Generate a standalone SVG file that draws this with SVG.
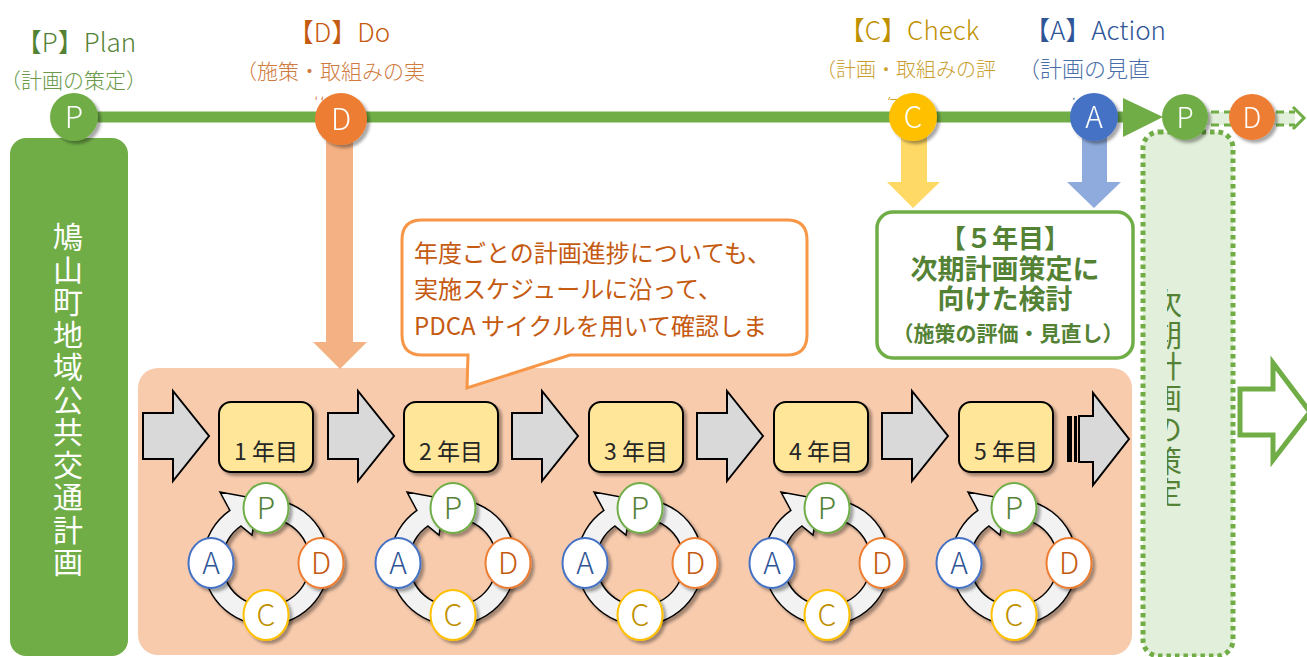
<svg xmlns="http://www.w3.org/2000/svg" xmlns:xlink="http://www.w3.org/1999/xlink" width="1307" height="657" viewBox="0 0 1307 657">
<style>
text{font-family:"Noto Sans CJK JP","Noto Sans",sans-serif;}
.lab{font-size:26px;font-weight:300;}
.sub{font-size:20px;font-weight:300;}
.big{fill:#fff;font-size:30px;text-anchor:middle;font-weight:300;}
.cl{font-size:30px;fill:#fff;text-anchor:middle;}
.sl{font-size:30px;text-anchor:middle;font-weight:300;}
.yr{font-size:23px;fill:#262626;text-anchor:middle;}
.gar{fill:#d9d9d9;stroke:#000;stroke-width:2;stroke-linejoin:miter;}
.ybox{fill:#ffe699;stroke:#000;stroke-width:2;}
.bub{font-size:24px;fill:#c55a11;}
.g5{fill:#548235;font-weight:bold;text-anchor:middle;}
</style>
<defs>
<filter id="sh" x="-30%" y="-30%" width="170%" height="170%">
<feDropShadow dx="3" dy="3" stdDeviation="1.5" flood-color="#000" flood-opacity="0.35"/>
</filter>
<path id="garr" class="gar" d="M0,-23 H30 V-45 L66,0 L30,45 V23 H0 Z"/>
<g id="pdca">
<path d="M13.1,-61.6 A63,63 0 1 1 -36.1,-51.6 L-46,-70 L-8,-63 L-14,-27 L-25.2,-36 A44,44 0 1 0 9.1,-43 Z" fill="#f2f2f2" stroke="#000" stroke-width="1.5" filter="url(#sh)"/>
<ellipse cx="0" cy="-54" rx="22.5" ry="25" fill="#fff" stroke="#70ad47" stroke-width="2" filter="url(#sh)"/>
<text class="sl" x="0" y="-43" fill="#548235">P</text>
<ellipse cx="55" cy="1" rx="22.5" ry="25" fill="#fff" stroke="#ed7d31" stroke-width="2" filter="url(#sh)"/>
<text class="sl" x="55" y="12" fill="#c55a11">D</text>
<ellipse cx="0" cy="53" rx="22.5" ry="25" fill="#fff" stroke="#ffc000" stroke-width="2" filter="url(#sh)"/>
<text class="sl" x="0" y="64" fill="#bf9000">C</text>
<ellipse cx="-55" cy="1" rx="22.5" ry="25" fill="#fff" stroke="#4472c4" stroke-width="2" filter="url(#sh)"/>
<text class="sl" x="-55" y="12" fill="#2f5597">A</text>
</g>
<clipPath id="clipv"><rect x="1167" y="260" width="40" height="280"/></clipPath>
<clipPath id="clipfrag"><rect x="0" y="88" width="1307" height="12"/></clipPath>
</defs>

<!-- labels -->
<g id="labels">
<text class="lab" x="76" y="52" text-anchor="middle" fill="#548235">【P】Plan</text>
<text x="0" y="88" fill="#6a9a4a" style="font-size:21px;font-weight:300">（計画の策定）</text>
<text class="lab" x="339" y="42" text-anchor="middle" fill="#c55a11">【D】Do</text>
<text class="sub" x="236" y="79" fill="#d07a40" style="font-size:21px">（施策・取組みの実</text>
<text class="lab" x="909" y="40" text-anchor="middle" fill="#bf9000">【C】Check</text>
<text class="sub" x="816" y="77" fill="#c9a030">（計画・取組みの評</text>
<text class="lab" x="1095" y="40" text-anchor="middle" fill="#2f5597">【A】Action</text>
<text class="sub" x="1018" y="77" fill="#4a6fa8" style="font-size:22px">（計画の見直</text>
<g clip-path="url(#clipfrag)">
<text class="sub" x="311" y="114" fill="#d07a40">施）</text>
<text class="sub" x="884" y="114" fill="#c9a030">価）</text>
<text class="sub" x="1068" y="114" fill="#4a6fa8">し）</text>
</g>
</g>

<!-- left bar -->
<g id="plan-bar">
<rect x="10" y="138" width="118" height="518" rx="16" fill="#70ad47"/>
<text class="cl" x="68" y="248">鳩</text>
<text class="cl" x="68" y="280.5">山</text>
<text class="cl" x="68" y="313">町</text>
<text class="cl" x="68" y="345.5">地</text>
<text class="cl" x="68" y="378">域</text>
<text class="cl" x="68" y="410.5">公</text>
<text class="cl" x="68" y="443">共</text>
<text class="cl" x="68" y="475.5">交</text>
<text class="cl" x="68" y="508">通</text>
<text class="cl" x="68" y="540.5">計</text>
<text class="cl" x="68" y="573">画</text>
</g>

<!-- next plan dotted area -->
<g id="next-plan">
<rect x="1143" y="132" width="90" height="524" rx="16" fill="#e2efda" stroke="#70ad47" stroke-width="5" stroke-dasharray="4.5 4"/>
<g clip-path="url(#clipv)" fill="#548235" style="font-size:30px" text-anchor="middle">
<text x="1167" y="314">次</text>
<text x="1167" y="345.5">期</text>
<text x="1167" y="377">計</text>
<text x="1167" y="408.5">画</text>
<text x="1167" y="440">の</text>
<text x="1167" y="471.5">策</text>
<text x="1167" y="503">定</text>
</g>
</g>

<!-- right block arrow -->
<g id="next-arrow">
<path d="M1240,389 H1273 V363 L1310,412 L1273,460 V435 H1240 Z" fill="#fff" stroke="#70ad47" stroke-width="5"/>
</g>

<!-- salmon background -->
<g id="years-area">
<rect x="138" y="368" width="994" height="287" rx="20" fill="#f8cbad"/>
</g>

<!-- connectors -->
<g id="connectors">
<line x1="73" y1="117" x2="1126" y2="117" stroke="#70ad47" stroke-width="11"/>
<polygon points="1123,98 1163,117 1123,137" fill="#70ad47"/>
<rect x="1185" y="112" width="110" height="13" fill="#e2efda"/>
<line x1="1185" y1="112" x2="1295" y2="112" stroke="#70ad47" stroke-width="3" stroke-dasharray="8 5"/>
<line x1="1185" y1="125" x2="1295" y2="125" stroke="#70ad47" stroke-width="3" stroke-dasharray="8 5"/>
<polyline points="1293,107 1304,118 1293,129" fill="none" stroke="#70ad47" stroke-width="3"/>
<polygon points="326,135 353,135 353,342 367,342 340,369 313,342 326,342" fill="#f4b183"/>
<polygon points="901,130 927,130 927,182 940,182 913,208 887,182 901,182" fill="#ffd966"/>
<polygon points="1082,130 1107,130 1107,182 1121,182 1094,208 1067,182 1082,182" fill="#8faadc"/>
<use xlink:href="#garr" href="#garr" x="143" y="436"/>
<use xlink:href="#garr" href="#garr" x="328" y="436"/>
<use xlink:href="#garr" href="#garr" x="512" y="436"/>
<use xlink:href="#garr" href="#garr" x="697" y="436"/>
<use xlink:href="#garr" href="#garr" x="882" y="436"/>
<rect x="1067" y="416" width="5" height="46" fill="#000"/>
<rect x="1074" y="416" width="3" height="46" fill="#000"/>
<path class="gar" d="M1079,416 H1093 V393 L1129,439 L1093,485 V462 H1079 Z"/>
</g>

<!-- top circles -->
<g id="node-P" filter="url(#sh)"><circle cx="74" cy="117" r="24" fill="#70ad47"/><text class="big" x="74" y="128">P</text></g>
<g id="node-D" filter="url(#sh)"><circle cx="341" cy="119" r="26" fill="#ed7d31"/><text class="big" x="341" y="130">D</text></g>
<g id="node-C" filter="url(#sh)"><circle cx="913" cy="117" r="24" fill="#ffc000"/><text class="big" x="913" y="128">C</text></g>
<g id="node-A" filter="url(#sh)"><circle cx="1094" cy="117" r="24" fill="#4472c4"/><text class="big" x="1094" y="128">A</text></g>
<g id="node-P2" filter="url(#sh)"><circle cx="1185" cy="117" r="23" fill="#70ad47"/><text class="big" x="1185" y="128" style="font-size:28px">P</text></g>
<g id="node-D2" filter="url(#sh)"><circle cx="1252" cy="117" r="23" fill="#ed7d31"/><text class="big" x="1252" y="128" style="font-size:28px">D</text></g>

<!-- 5th year review box -->
<g id="review">
<rect x="877" y="212" width="256" height="146" rx="16" fill="#fff" stroke="#70ad47" stroke-width="3.5"/>
<text class="g5" x="1005" y="248" style="font-size:26px">【５年目】</text>
<text class="g5" x="1005" y="279" style="font-size:27px">次期計画策定に</text>
<text class="g5" x="1005" y="309" style="font-size:27px">向けた検討</text>
<text class="g5" x="1008" y="341" style="font-size:21px">（施策の評価・見直し）</text>
</g>

<!-- speech bubble -->
<g id="bubble">
<path d="M422,220 H787 Q807,220 807,240 V335 Q807,355 787,355 H570 L467,388 L468,355 H422 Q402,355 402,335 V240 Q402,220 422,220 Z" fill="#fff" stroke="#f79646" stroke-width="3"/>
<text class="bub" x="414" y="262">年度ごとの計画進捗についても、</text>
<text class="bub" x="414" y="298">実施スケジュールに沿って、</text>
<text class="bub" x="414" y="335">PDCA サイクルを用いて確認しま</text>
</g>

<!-- year boxes -->
<g id="year1"><rect class="ybox" x="219" y="402" width="94" height="70" rx="12" filter="url(#sh)"/><text class="yr" x="266" y="460">1 年目</text></g>
<g id="year2"><rect class="ybox" x="404" y="402" width="94" height="70" rx="12" filter="url(#sh)"/><text class="yr" x="451" y="460">2 年目</text></g>
<g id="year3"><rect class="ybox" x="589" y="402" width="94" height="70" rx="12" filter="url(#sh)"/><text class="yr" x="636" y="460">3 年目</text></g>
<g id="year4"><rect class="ybox" x="774" y="402" width="94" height="70" rx="12" filter="url(#sh)"/><text class="yr" x="821" y="460">4 年目</text></g>
<g id="year5"><rect class="ybox" x="959" y="402" width="94" height="70" rx="12" filter="url(#sh)"/><text class="yr" x="1006" y="460">5 年目</text></g>

<!-- PDCA cycles -->
<g id="cycle1"><use xlink:href="#pdca" href="#pdca" x="266" y="562"/></g>
<g id="cycle2"><use xlink:href="#pdca" href="#pdca" x="453" y="562"/></g>
<g id="cycle3"><use xlink:href="#pdca" href="#pdca" x="640" y="562"/></g>
<g id="cycle4"><use xlink:href="#pdca" href="#pdca" x="827" y="562"/></g>
<g id="cycle5"><use xlink:href="#pdca" href="#pdca" x="1014" y="562"/></g>
</svg>
